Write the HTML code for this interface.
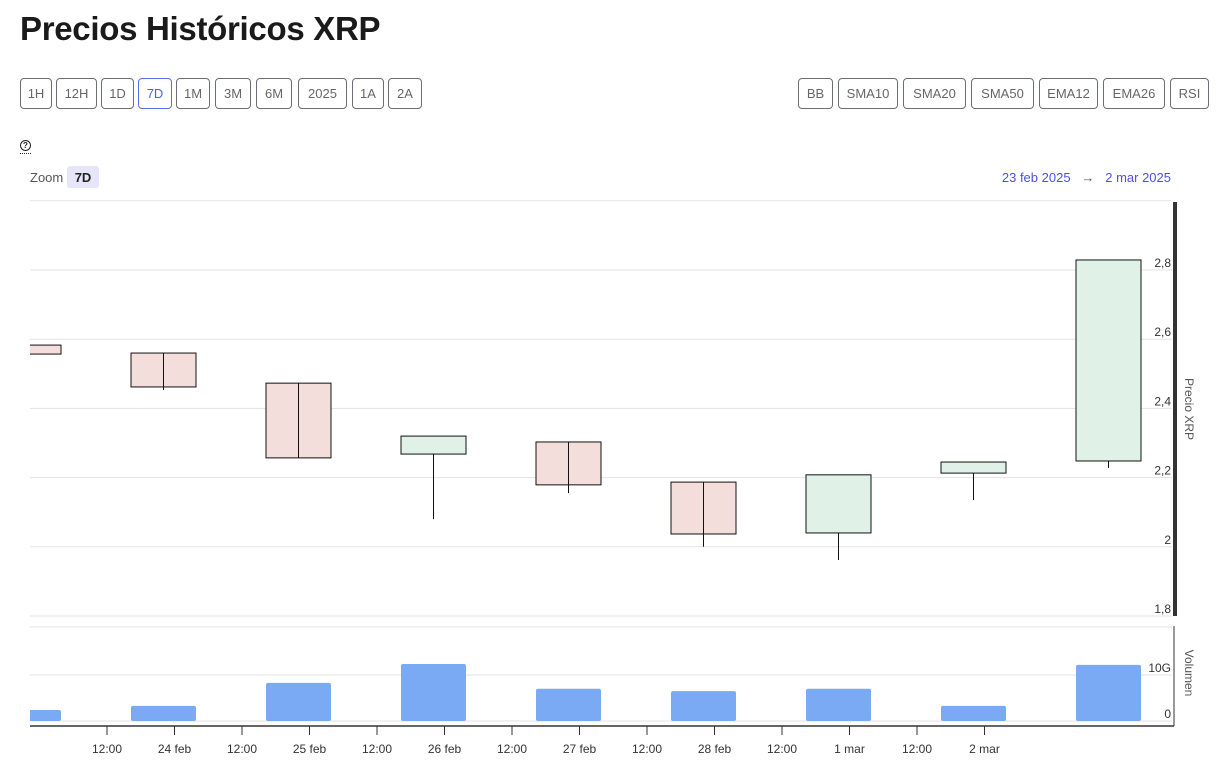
<!DOCTYPE html>
<html><head><meta charset="utf-8">
<style>
body{margin:0;width:1230px;height:773px;background:#fff;font-family:"Liberation Sans",sans-serif;position:relative;overflow:hidden;color:#222}
h1{position:absolute;left:20px;top:10px;margin:0;font-size:33px;font-weight:bold;letter-spacing:-0.3px;color:#1a1a1a}
.btn{position:absolute;top:78px;height:31px;box-sizing:border-box;border:1px solid #6b6e75;border-radius:4px;background:#fff;font-size:13px;color:#666;display:flex;align-items:center;justify-content:center;font-family:"Liberation Sans",sans-serif}
.btn.active{border-color:#5b6ee8;color:#4a5fe8}
svg text{font-family:"Liberation Sans",sans-serif}
</style></head><body>
<h1>Precios Históricos XRP</h1>
<div class="btn" style="left:20px;width:32px">1H</div>
<div class="btn" style="left:56px;width:41px">12H</div>
<div class="btn" style="left:101px;width:33px">1D</div>
<div class="btn active" style="left:138px;width:34px">7D</div>
<div class="btn" style="left:176px;width:34px">1M</div>
<div class="btn" style="left:215px;width:36px">3M</div>
<div class="btn" style="left:256px;width:36px">6M</div>
<div class="btn" style="left:298px;width:49px">2025</div>
<div class="btn" style="left:352px;width:32px">1A</div>
<div class="btn" style="left:388px;width:34px">2A</div>
<div class="btn" style="left:798px;width:35px">BB</div>
<div class="btn" style="left:838px;width:60px">SMA10</div>
<div class="btn" style="left:903px;width:63px">SMA20</div>
<div class="btn" style="left:971px;width:63px">SMA50</div>
<div class="btn" style="left:1039px;width:59px">EMA12</div>
<div class="btn" style="left:1103px;width:62px">EMA26</div>
<div class="btn" style="left:1170px;width:39px">RSI</div>
<div style="position:absolute;left:20px;top:140px;width:9px;height:9px;border:1px solid #222;border-radius:50%;font-size:8px;line-height:9px;text-align:center;font-weight:bold">?</div>
<div style="position:absolute;left:20px;top:153px;width:11px;border-top:1px dotted #222"></div>
<div style="position:absolute;left:30px;top:170px;font-size:13px;color:#555">Zoom</div>
<div style="position:absolute;left:67px;top:166px;width:32px;height:22px;background:#e6e6fa;border-radius:3px;font-size:13px;font-weight:bold;display:flex;align-items:center;justify-content:center">7D</div>
<div style="position:absolute;right:59px;top:170px;font-size:13px;color:#4a4ff0;white-space:nowrap">23 feb 2025 &nbsp;&nbsp;<span style="color:#555">→</span>&nbsp;&nbsp; 2 mar 2025</div>
<svg id="chart" width="1230" height="773" style="position:absolute;left:0;top:0"></svg>
<script>
const categories=["23 feb","24 feb","25 feb","26 feb","27 feb","28 feb","1 mar","2 mar","3 mar"];
const opens=[2.583,2.560,2.473,2.268,2.303,2.187,2.040,2.213,2.248];
const highs=[2.585,2.560,2.473,2.320,2.303,2.187,2.208,2.245,2.829];
const lows=[2.555,2.453,2.257,2.080,2.155,2.000,1.962,2.135,2.228];
const closes=[2.557,2.462,2.257,2.320,2.179,2.037,2.208,2.245,2.829];
const volumes=[2.4,3.3,8.3,12.4,7.0,6.5,7.0,3.3,12.2];
const priceTicks=[1.8,2,2.2,2.4,2.6,2.8,3.0];
const priceTickLabels=["1,8","2","2,2","2,4","2,6","2,8",""];
const volTicks=[0,10];
const volTickLabels=["0","10G"];
const xTickLabels=["12:00","24 feb","12:00","25 feb","12:00","26 feb","12:00","27 feb","12:00","28 feb","12:00","1 mar","12:00","2 mar"];

const svg=document.getElementById('chart');
const NS='http://www.w3.org/2000/svg';
const L=30,R=1172;
const yP=v=>616-(v-1.8)*346;
const yV=v=>721-v*4.6;
const xC=i=>28.5+i*135;
const xT=i=>107+i*67.5;
function mk(t,a){const e=document.createElementNS(NS,t);for(const k in a)e.setAttribute(k,a[k]);svg.appendChild(e);return e;}
const clip=mk('clipPath',{id:'pc'});
const cr=document.createElementNS(NS,'rect');cr.setAttribute('x',L);cr.setAttribute('y',190);cr.setAttribute('width',R-L);cr.setAttribute('height',540);clip.appendChild(cr);
priceTicks.forEach((v,i)=>{
 const g=mk('line',{x1:L,x2:R,y1:yP(v),y2:yP(v),stroke:'#e3e3e3','stroke-width':1});
 
 if(priceTickLabels[i]){const t=mk('text',{x:1171,y:yP(v)-3,'text-anchor':'end','font-size':12,fill:'#333'});t.textContent=priceTickLabels[i];
 }
});
[627].forEach(y=>{const g=mk('line',{x1:L,x2:R,y1:y,y2:y,stroke:'#e3e3e3'});});
volTicks.forEach((v,i)=>{
 const g=mk('line',{x1:L,x2:R,y1:yV(v),y2:yV(v),stroke:'#e3e3e3'});
 
 const t=mk('text',{x:1171,y:yV(v)-3,'text-anchor':'end','font-size':12,fill:'#333'});t.textContent=volTickLabels[i];
 
});
const ax=mk('rect',{x:1173,y:202,width:4,height:414,fill:'#333'});

const pt=mk('text',{x:0,y:0,'font-size':12,fill:'#555','text-anchor':'middle',transform:'translate(1185,409) rotate(90)'});pt.textContent='Precio XRP';

categories.forEach((c,i)=>{
 const up=closes[i]>=opens[i];const cx=xC(i);
 const top=yP(Math.max(opens[i],closes[i])),bot=yP(Math.min(opens[i],closes[i]));
 const drawWick=()=>{const w=mk('line',{x1:cx,x2:cx,y1:yP(highs[i]),y2:yP(lows[i]),stroke:'#111','stroke-width':1,'clip-path':'url(#pc)'});
  
  };
 if(up)drawWick();
 const b=mk('rect',{x:cx-32.5,y:top,width:65,height:Math.max(1,bot-top),fill:up?'#e0f2e8':'#f3dedb',stroke:'#111','stroke-width':1,'clip-path':'url(#pc)'});
 
 if(!up)drawWick();
 const vb=mk('rect',{x:cx-32.5,y:yV(volumes[i]),width:65,height:721-yV(volumes[i]),rx:2,fill:'#7baaf5','clip-path':'url(#pc)'});
 
});
const va=mk('line',{x1:1174,x2:1174,y1:626,y2:726,stroke:'#333','stroke-width':1});

const vt=mk('text',{x:0,y:0,'font-size':12,fill:'#555','text-anchor':'middle',transform:'translate(1185,673) rotate(90)'});vt.textContent='Volumen';

const xa=mk('line',{x1:L,x2:1174,y1:726,y2:726,stroke:'#333','stroke-width':1.5});

xTickLabels.forEach((s,i)=>{
 const x=xT(i);
 const tk=mk('line',{x1:x,x2:x,y1:726,y2:735,stroke:'#333'});
 
 const t=mk('text',{x:x,y:753,'text-anchor':'middle','font-size':12,fill:'#333'});t.textContent=s;
 
});
</script>
</body></html>
